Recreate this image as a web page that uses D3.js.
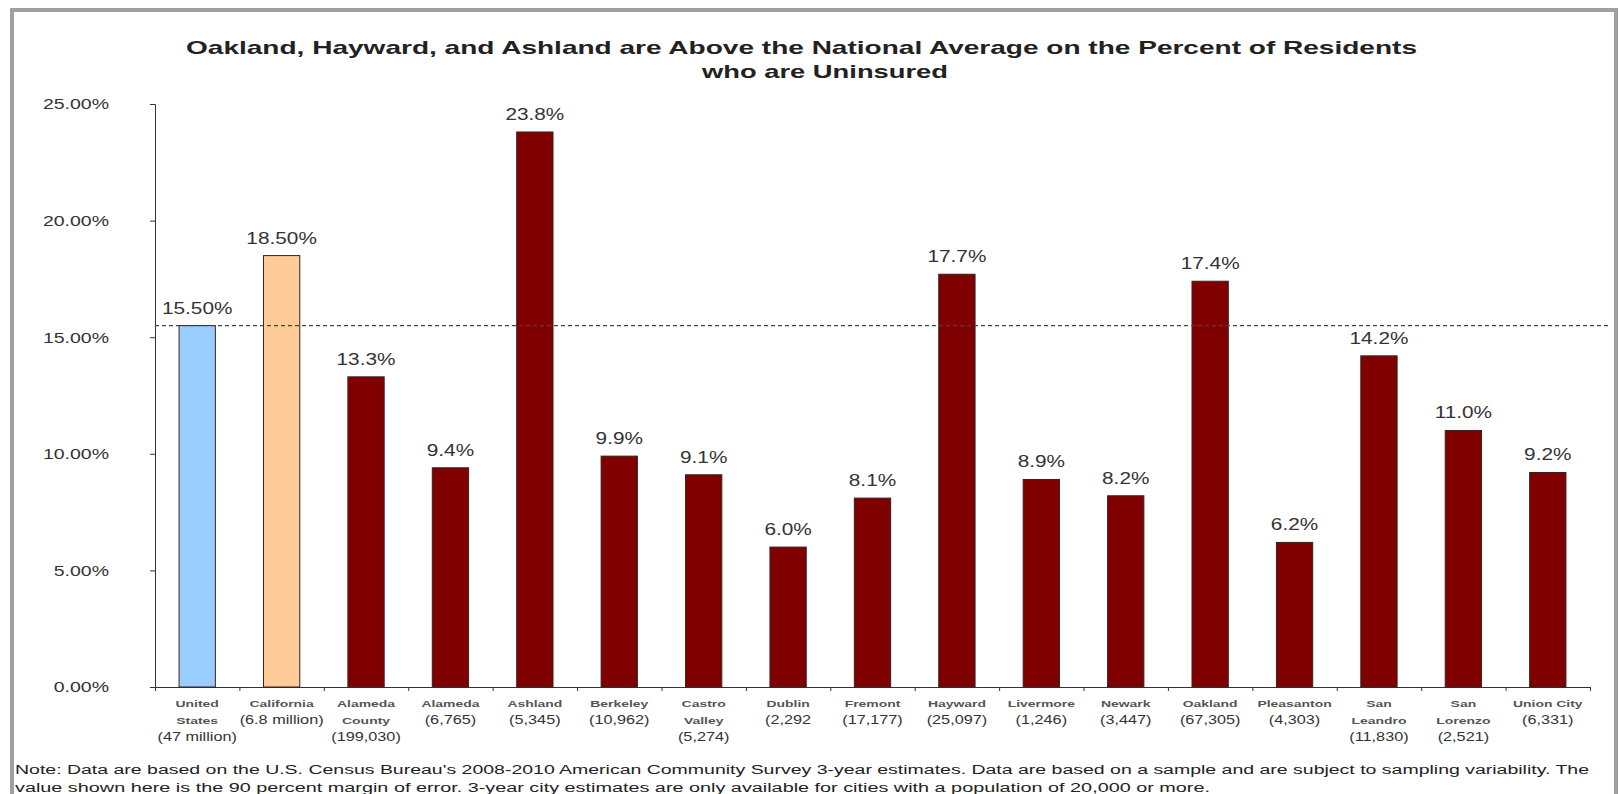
<!DOCTYPE html>
<html>
<head>
<meta charset="utf-8">
<script src="https://cdn.jsdelivr.net/npm/d3@7"></script>
<style>
  body { margin: 0; background: #fff; }
  svg { display: block; }
</style>
</head>
<body>
<div id="chart"></div>
<script>
// data
const categories = ["United States", "California", "Alameda County", "Alameda", "Ashland", "Berkeley",
	"Castro Valley", "Dublin", "Fremont", "Hayward", "Livermore", "Newark", "Oakland", "Pleasanton",
	"San Leandro", "San Lorenzo", "Union City"];
const nameLines = [["United", "States"], ["California"], ["Alameda", "County"], ["Alameda"], ["Ashland"],
	["Berkeley"], ["Castro", "Valley"], ["Dublin"], ["Fremont"], ["Hayward"], ["Livermore"], ["Newark"],
	["Oakland"], ["Pleasanton"], ["San", "Leandro"], ["San", "Lorenzo"], ["Union City"]];
const populations = ["(47 million)", "(6.8 million)", "(199,030)", "(6,765)", "(5,345)", "(10,962)",
	"(5,274)", "(2,292", "(17,177)", "(25,097)", "(1,246)", "(3,447)", "(67,305)", "(4,303)",
	"(11,830)", "(2,521)", "(6,331)"];
const uninsured = [15.5, 18.5, 13.3, 9.4, 23.8, 9.9, 9.1, 6.0, 8.1, 17.7, 8.9, 8.2, 17.4, 6.2, 14.2, 11.0, 9.2];
const valueLabels = ["15.50%", "18.50%", "13.3%", "9.4%", "23.8%", "9.9%", "9.1%", "6.0%", "8.1%",
	"17.7%", "8.9%", "8.2%", "17.4%", "6.2%", "14.2%", "11.0%", "9.2%"];
const barColors = ["#99ccff", "#ffcc99"]; // rest are maroon
const nationalAverage = 15.5;
const yTicks = [0, 5, 10, 15, 20, 25];
const titleLines = ["Oakland, Hayward, and Ashland are Above the National Average on the Percent of Residents",
	"who are Uninsured"];
const noteLines = ["Note: Data are based on the U.S. Census Bureau's 2008-2010 American Community Survey 3-year estimates.  Data are based on a sample and are subject to sampling variability. The",
	"value shown here is the 90 percent margin of error.  3-year city estimates are only available for cities with a population of 20,000 or more."];

const W = 1619, H = 794;
const stretch = 1.3; // the picture is stretched sideways, so is its text
const font = "'Liberation Sans', Arial, sans-serif";

const svg = d3.select('#chart').append('svg')
	.attr('width', W)
	.attr('height', H)
	.style('font-family', font);

// grey frame
svg.append('rect')
	.attr('x', 12).attr('y', 10)
	.attr('width', 1604).attr('height', 800)
	.attr('fill', 'none')
	.attr('stroke', '#a0a0a0')
	.attr('stroke-width', 4);

const plot = { left: 155, right: 1590, top: 104, bottom: 687 };
const width = plot.right - plot.left;
const height = plot.bottom - plot.top;

const chart = svg.append('g')
	.attr('transform', `translate(${plot.left}, ${plot.top})`);

const xScale = d3.scaleBand()
	.domain(categories)
	.range([0, width])
	.paddingInner(0.57)
	.paddingOuter(0.285);

const slotScale = d3.scaleLinear()
	.domain([0, categories.length])
	.range([0, width]);

const yScale = d3.scaleLinear()
	.domain([0, 25])
	.range([height, 0]);

// y axis
const yAxis = chart.append('g')
	.call(d3.axisLeft(yScale)
		.tickValues(yTicks)
		.tickSize(5)
		.tickFormat((d) => d.toFixed(2) + '%'));

yAxis.selectAll('text')
	.attr('x', -46 / stretch)
	.attr('transform', `scale(${stretch},1)`)
	.style('font-size', '15px')
	.style('font-family', font)
	.attr('fill', '#333');

// x axis, ticks between the bars
chart.append('g')
	.attr('transform', `translate(0, ${height})`)
	.call(d3.axisBottom(slotScale)
		.tickValues(d3.range(0, categories.length + 1))
		.tickSize(4)
		.tickSizeOuter(0)
		.tickFormat(''));

chart.selectAll('.domain, .tick line')
	.attr('stroke', '#333');

// bars
chart.selectAll('.bar')
	.data(uninsured)
	.enter()
	.append('rect')
	.attr('class', 'bar')
	.attr('x', (d, i) => xScale(categories[i]))
	.attr('y', (d) => yScale(d))
	.attr('width', xScale.bandwidth())
	.attr('height', (d) => height - yScale(d))
	.attr('fill', (d, i) => barColors[i] || '#800000')
	.attr('stroke', '#3a2020')
	.attr('stroke-width', 1);

// national average
chart.append('line')
	.attr('x1', 0)
	.attr('x2', 1611 - plot.left)
	.attr('y1', yScale(nationalAverage))
	.attr('y2', yScale(nationalAverage))
	.attr('stroke', '#444')
	.attr('stroke-width', 1.2)
	.attr('stroke-dasharray', '4 3');

// value labels
chart.selectAll('.value')
	.data(uninsured)
	.enter()
	.append('text')
	.attr('class', 'value')
	.attr('text-anchor', 'middle')
	.attr('transform', (d, i) =>
		`translate(${xScale(categories[i]) + xScale.bandwidth() / 2}, ${yScale(d) - 12}) scale(${stretch},1)`)
	.style('font-size', '16px')
	.attr('fill', '#333')
	.text((d, i) => valueLabels[i]);

// category labels
const catLabels = chart.selectAll('.cat')
	.data(categories)
	.enter()
	.append('g')
	.attr('class', 'cat')
	.attr('transform', (d) => `translate(${xScale(d) + xScale.bandwidth() / 2}, ${height})`);

catLabels.each(function (d, i) {
	const g = d3.select(this);
	nameLines[i].forEach((line, j) => {
		g.append('text')
			.attr('text-anchor', 'middle')
			.attr('transform', `translate(0, ${20 + j * 16.5}) scale(1.55,1)`)
			.style('font-size', '9px')
			.style('font-weight', 'bold')
			.attr('fill', '#555')
			.text(line);
	});
	g.append('text')
		.attr('text-anchor', 'middle')
		.attr('transform', `translate(0, ${37 + (nameLines[i].length - 1) * 16.5}) scale(${stretch},1)`)
		.style('font-size', '12.5px')
		.attr('fill', '#333')
		.text(populations[i]);
});

// title
svg.append('text')
	.attr('x', 186).attr('y', 54)
	.attr('textLength', 1231)
	.attr('lengthAdjust', 'spacingAndGlyphs')
	.style('font-size', '19px')
	.style('font-weight', 'bold')
	.attr('fill', '#222')
	.text(titleLines[0]);

svg.append('text')
	.attr('x', 702).attr('y', 78)
	.attr('textLength', 246)
	.attr('lengthAdjust', 'spacingAndGlyphs')
	.style('font-size', '19px')
	.style('font-weight', 'bold')
	.attr('fill', '#222')
	.text(titleLines[1]);

// footnote
const noteLengths = [1574, 1195];
noteLines.forEach((line, i) => {
	svg.append('text')
		.attr('x', 15).attr('y', 774 + i * 18)
		.attr('textLength', noteLengths[i])
		.attr('lengthAdjust', 'spacingAndGlyphs')
		.style('font-size', '12.5px')
		.attr('fill', '#222')
		.text(line);
});
</script>
</body>
</html>
